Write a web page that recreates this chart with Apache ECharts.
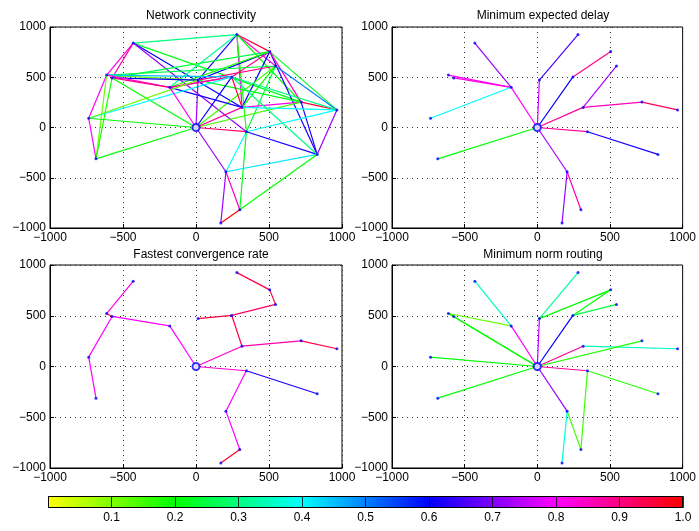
<!DOCTYPE html>
<html>
<head>
<meta charset="utf-8">
<script src="https://cdn.jsdelivr.net/npm/echarts@6/dist/echarts.min.js"></script>
<style>
html, body { margin: 0; padding: 0; background: #fff; }
#main { width: 699px; height: 531px; }
</style>
</head>
<body>
<div id="main"></div>
<script>
// node positions (node 0 is the sink at the origin)
var nodeX = [0, -430, 280, 505, 545, -612, -575, -180, 14, 245, 315, 720, 965, -735, -685, 345, 830, 205, 300, 170];
var nodeY = [0, 840, 925, 755, 612, 522, 493, 400, 472, 503, 200, 253, 175, 92, -312, -42, -268, -440, -818, -950];

// edges: [from, to, value on the colour scale]
var edgesConnectivity = [
  [1, 2, 0.3], [1, 11, 0.22], [1, 10, 0.6], [1, 15, 0.72], [1, 5, 0.82], [1, 6, 0.88],
  [2, 3, 0.95], [2, 4, 0.82], [2, 8, 0.62], [2, 10, 0.8], [2, 11, 0.2], [2, 15, 0.18], [2, 7, 0.32],
  [3, 8, 0.6], [3, 10, 0.6], [3, 12, 0.22], [3, 16, 0.62], [3, 11, 0.85], [3, 9, 0.88], [3, 6, 0.25], [3, 7, 0.18],
  [4, 8, 0.9], [4, 12, 0.5], [4, 15, 0.25], [4, 0, 0.15], [4, 10, 0.2], [4, 5, 0.25],
  [11, 12, 0.95], [11, 16, 0.62], [11, 10, 0.82], [11, 8, 0.22], [11, 0, 0.15],
  [12, 10, 0.4], [12, 15, 0.4], [12, 16, 0.72], [12, 9, 0.3],
  [10, 7, 0.62], [10, 0, 0.88], [10, 9, 0.95], [9, 0, 0.6], [9, 7, 0.85],
  [15, 16, 0.62], [15, 17, 0.4], [15, 18, 0.22], [15, 0, 0.92],
  [0, 17, 0.72], [17, 18, 0.85], [17, 19, 0.72], [18, 19, 1.0], [17, 16, 0.42], [18, 16, 0.2], [16, 9, 0.3],
  [5, 8, 0.12], [6, 8, 0.6], [5, 9, 0.45], [5, 7, 0.82], [6, 7, 0.9], [7, 9, 0.88],
  [5, 13, 0.8], [5, 14, 0.12], [6, 14, 0.18], [6, 0, 0.2],
  [13, 9, 0.4], [13, 8, 0.12], [13, 0, 0.2], [14, 0, 0.2], [14, 13, 0.8], [7, 0, 0.8], [8, 0, 0.72]
];
var edgesDelay = [
  [1, 7, 0.72], [5, 7, 0.8], [6, 7, 0.82], [7, 0, 0.8], [13, 7, 0.4], [14, 0, 0.2],
  [2, 8, 0.66], [8, 0, 0.76], [3, 9, 0.9], [9, 0, 0.6], [4, 10, 0.73], [12, 11, 0.93],
  [11, 10, 0.85], [10, 0, 0.88], [16, 15, 0.62], [15, 0, 0.88], [19, 17, 0.72], [18, 17, 0.86], [17, 0, 0.73]
];
var edgesConvergence = [
  [1, 5, 0.82], [5, 6, 0.97], [13, 6, 0.8], [14, 13, 0.8], [6, 7, 0.8], [7, 0, 0.8],
  [2, 3, 0.95], [3, 4, 0.95], [4, 9, 0.92], [8, 9, 0.95], [9, 10, 0.95], [12, 11, 0.95],
  [11, 10, 0.86], [10, 0, 0.84], [0, 15, 0.84], [15, 16, 0.62], [15, 17, 0.8], [17, 18, 0.8], [18, 19, 0.97]
];
var edgesNorm = [
  [1, 7, 0.35], [7, 0, 0.8], [5, 7, 0.12], [5, 6, 0.15], [6, 0, 0.2], [5, 0, 0.2],
  [13, 0, 0.2], [14, 0, 0.2], [2, 8, 0.32], [8, 3, 0.2], [8, 0, 0.75], [9, 3, 0.2],
  [4, 9, 0.25], [9, 0, 0.6], [10, 0, 0.88], [10, 12, 0.35], [11, 0, 0.18], [0, 15, 0.88],
  [15, 16, 0.17], [15, 18, 0.15], [18, 17, 0.15], [17, 0, 0.72], [19, 17, 0.38]
];

var titles = ['Network connectivity', 'Minimum expected delay', 'Fastest convergence rate', 'Minimum norm routing'];
var axisTicks = [-1000, -500, 0, 500, 1000];
var colorbarTicks = [0.1, 0.2, 0.3, 0.4, 0.5, 0.6, 0.7, 0.8, 0.9, 1.0];

var font = 'Liberation Sans';

// hsv colormap running from yellow (0) to red (1)
function cmap(v) {
  var h = (60 + 300 * v) % 360;
  var c = 255;
  var x = Math.round(255 * (1 - Math.abs((h / 60) % 2 - 1)));
  var r, g, b;
  if (h < 60) { r = c; g = x; b = 0; }
  else if (h < 120) { r = x; g = c; b = 0; }
  else if (h < 180) { r = 0; g = c; b = x; }
  else if (h < 240) { r = 0; g = x; b = c; }
  else if (h < 300) { r = x; g = 0; b = c; }
  else { r = c; g = 0; b = x; }
  return 'rgb(' + r + ',' + g + ',' + b + ')';
}

var grids = [
  { left: 50, top: 27, width: 292, height: 201 },
  { left: 392, top: 27, width: 293, height: 201 },
  { left: 50, top: 265, width: 292, height: 203 },
  { left: 392, top: 265, width: 292, height: 203 }
];
var titlePos = [[196, 5], [538, 5], [196, 244], [538, 244]];
var edgeSets = [edgesConnectivity, edgesDelay, edgesConvergence, edgesNorm];

function minusFmt(v) {
  return String(v).replace('-', '\u2212');
}

var option = {
  animation: false,
  backgroundColor: '#fff',
  title: [],
  grid: [],
  xAxis: [],
  yAxis: [],
  series: []
};

for (var i = 0; i < 4; i++) {
  option.grid.push(Object.assign({ show: true, borderColor: '#000', borderWidth: 1 }, grids[i]));
  option.title.push({
    text: titles[i],
    left: titlePos[i][0],
    top: titlePos[i][1],
    textAlign: 'center',
    textStyle: { fontSize: 12, fontWeight: 'normal', fontFamily: font, color: '#000' }
  });
  var axisCommon = {
    gridIndex: i,
    type: 'value',
    min: axisTicks[0],
    max: axisTicks[axisTicks.length - 1],
    interval: 500,
    axisLine: { show: true, onZero: false, lineStyle: { color: '#000', width: 1 } },
    axisTick: { show: true, inside: true, length: 4, lineStyle: { color: '#000' } },
    axisLabel: { formatter: minusFmt, fontSize: 12, fontFamily: font, color: '#000', margin: 4 },
    splitLine: { show: true, lineStyle: { color: '#333', type: [1, 4], width: 1 } }
  };
  option.xAxis.push(Object.assign({}, axisCommon));
  option.yAxis.push(Object.assign({}, axisCommon));

  option.series.push({
    type: 'lines',
    coordinateSystem: 'cartesian2d',
    xAxisIndex: i,
    yAxisIndex: i,
    silent: true,
    lineStyle: { width: 1.2, opacity: 1 },
    data: edgeSets[i].map(function (e) {
      return {
        coords: [[nodeX[e[0]], nodeY[e[0]]], [nodeX[e[1]], nodeY[e[1]]]],
        lineStyle: { color: cmap(e[2]), width: 1.2, opacity: 1 }
      };
    })
  });
  option.series.push({
    type: 'scatter',
    xAxisIndex: i,
    yAxisIndex: i,
    silent: true,
    symbolSize: 3,
    itemStyle: { color: '#0000ff' },
    data: nodeX.map(function (x, k) { return [x, nodeY[k]]; })
  });
  option.series.push({
    type: 'scatter',
    xAxisIndex: i,
    yAxisIndex: i,
    silent: true,
    symbol: 'emptyCircle',
    symbolSize: 7,
    itemStyle: { color: '#0000ff', borderColor: '#0000ff', borderWidth: 1 },
    data: [[nodeX[0], nodeY[0]]]
  });
}

// colorbar
var stops = [];
for (var s = 0; s <= 10; s++) {
  stops.push({ offset: s / 10, color: cmap(s / 10) });
}
option.grid.push({ left: 48, top: 496, width: 635, height: 12, show: false });
option.xAxis.push({
  gridIndex: 4,
  type: 'value',
  min: 0,
  max: 1,
  interval: 0.1,
  z: 10,
  axisLine: { show: false },
  axisTick: { show: false },
  axisLabel: {
    fontSize: 12, fontFamily: font, color: '#000', margin: 4,
    formatter: function (v) {
      var t = colorbarTicks.find(function (c) { return Math.abs(c - v) < 1e-6; });
      return t === undefined ? '' : t.toFixed(1);
    }
  },
  splitLine: { show: true, lineStyle: { color: '#000', width: 1, type: 'solid', opacity: 0.8 } }
});
option.yAxis.push({ gridIndex: 4, type: 'category', data: ['c'], show: false });
option.series.push({
  type: 'bar',
  xAxisIndex: 4,
  yAxisIndex: 4,
  silent: true,
  barWidth: '100%',
  data: [1],
  itemStyle: {
    color: new echarts.graphic.LinearGradient(0, 0, 1, 0, stops),
    borderColor: '#000',
    borderWidth: 1
  }
});

var myChart = echarts.init(document.getElementById('main'));
option && myChart.setOption(option);
</script>
</body>
</html>
